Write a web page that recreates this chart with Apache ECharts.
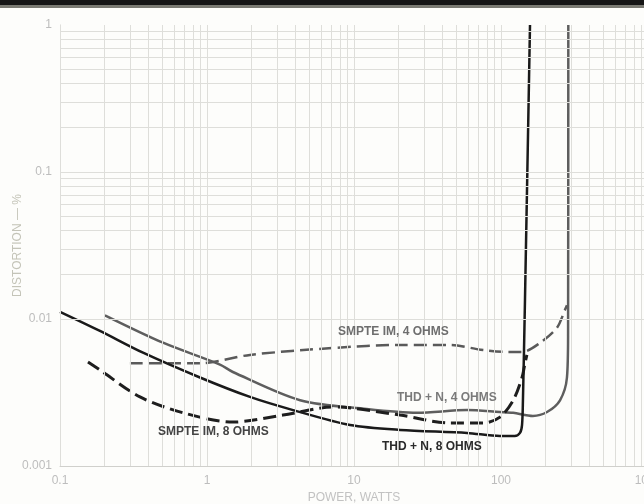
<!DOCTYPE html>
<html>
<head>
<meta charset="utf-8">
<style>html,body{margin:0;padding:0;background:#fdfdfb}#c{width:644px;height:504px}</style>
<script src="https://cdn.jsdelivr.net/npm/echarts@6/dist/echarts.min.js"></script>
</head>
<body>
<div id="c"></div>
<script>
// ---- data (power in watts, distortion in %) ----
const thd8 = [[0.1,0.0112],[0.187,0.0083],[0.367,0.0059],[0.896,0.0040],[1.96,0.00295],[3.85,0.0024],[9.4,0.0019],[20.6,0.00176],[58.7,0.00168],[98.4,0.0016],[124,0.0016],[134.6,0.00168],[139,0.0019],[141,0.0028],[145.6,0.0135],[157.5,1]];
const thd4 = [[0.202,0.0106],[0.502,0.0069],[1.225,0.0049],[1.5,0.00436],[4.3,0.0028],[12.2,0.00244],[26.9,0.0023],[58.7,0.0024],[98.4,0.00233],[121,0.0023],[165,0.00219],[205.6,0.00233],[252,0.0028],[281,0.0040],[286,0.0080],[287,1]];
const im4 = [[0.299,0.0050],[0.896,0.0050],[1.96,0.0057],[7.2,0.00635],[20.6,0.00666],[45,0.00666],[75.5,0.00615],[115,0.00596],[139,0.00596],[184,0.00687],[240,0.0087],[272,0.0115],[281,0.0124]];
const im8 = [[0.155,0.0051],[0.187,0.0045],[0.35,0.00295],[0.687,0.0023],[1.5,0.00199],[3.29,0.00222],[7.2,0.00252],[20.6,0.00222],[45,0.00196],[75.5,0.00196],[98.4,0.00215],[121,0.0028],[139,0.0040],[145.6,0.0050],[150,0.0057]];
const xTickLabels = {"0.1":"0.1","1":"1","10":"10","100":"100","1000":"1000"};
const yTickLabels = {"0.001":"0.001","0.01":"0.01","0.1":"0.1","1":"1"};
const seriesNames = ["THD + N, 8 OHMS","THD + N, 4 OHMS","SMPTE IM, 4 OHMS","SMPTE IM, 8 OHMS"];

// log-paper grid lines
const gx = [], gy = [];
for (let e = -1; e <= 2; e++) for (let m = 1; m <= 9; m++) gx.push({xAxis: +(m * Math.pow(10, e)).toPrecision(3)});
for (let e = -3; e <= -1; e++) for (let m = 1; m <= 9; m++) gy.push({yAxis: +(m * Math.pow(10, e)).toPrecision(3)});

const chart = echarts.init(document.getElementById('c'), null, {renderer: 'canvas'});
const font = 'Liberation Sans';
chart.setOption({
  backgroundColor: '#fdfdfb',
  animation: false,
  grid: {left: 60, top: 25, right: -4, bottom: 38, containLabel: false, outerBoundsMode: 'none'},
  xAxis: {
    type: 'log', logBase: 10, min: 0.1, max: 1000,
    name: 'POWER, WATTS', nameLocation: 'middle', nameGap: 26, nameMoveOverlap: false,
    nameTextStyle: {color: '#c2c2c2', fontFamily: font, fontSize: 12},
    axisLine: {show: true, lineStyle: {color: '#d0d0cc', width: 1}},
    axisTick: {show: false},
    splitLine: {show: false},
    axisLabel: {color: '#bdbdbd', fontFamily: font, fontSize: 12, margin: 9,
      formatter: v => xTickLabels[String(+v.toPrecision(3))] || ''}
  },
  yAxis: {
    type: 'log', logBase: 10, min: 0.001, max: 1,
    name: 'DISTORTION — %', nameLocation: 'middle', nameGap: 36, nameRotate: 90, nameMoveOverlap: false,
    nameTextStyle: {color: '#c4c4b8', fontFamily: font, fontSize: 12},
    axisLine: {show: true, lineStyle: {color: '#d0d0cc', width: 1}},
    axisTick: {show: false},
    splitLine: {show: false},
    axisLabel: {color: '#bdbdbd', fontFamily: font, fontSize: 12, margin: 8,
      formatter: v => yTickLabels[String(+v.toPrecision(3))] || ''}
  },
  graphic: [
    {type: 'rect', shape: {x: 0, y: 0, width: 644, height: 5}, style: {fill: '#151515'}},
    {type: 'rect', shape: {x: 0, y: 5, width: 644, height: 3}, style: {fill: '#7a7a72'}},
    {type: 'text', z: 10, left: 338, top: 326, style: {text: seriesNames[2], fill: '#6e6e6e', font: '600 12px "Liberation Sans"'}},
    {type: 'text', z: 10, left: 397, top: 392, style: {text: seriesNames[1], fill: '#7a7a7a', font: '600 12px "Liberation Sans"'}},
    {type: 'text', z: 10, left: 158, top: 426, style: {text: seriesNames[3], fill: '#444', font: '600 12px "Liberation Sans"'}},
    {type: 'text', z: 10, left: 382, top: 441, style: {text: seriesNames[0], fill: '#2a2a2a', font: '600 12px "Liberation Sans"'}}
  ],
  series: [
    {type: 'line', data: [], z: 1, silent: true,
      markLine: {silent: true, symbol: 'none', label: {show: false},
        lineStyle: {color: '#dededa', width: 1, type: 'solid'},
        data: gx.concat(gy)}},
    {name: seriesNames[1], type: 'line', data: thd4, smooth: 0.3, symbol: 'none', z: 3,
      lineStyle: {color: '#5e5e5e', width: 2.5}},
    {name: seriesNames[2], type: 'line', data: im4, smooth: 0.3, symbol: 'none', z: 3,
      lineStyle: {color: '#5a5a5a', width: 2.5, type: [13, 6]}},
    {name: seriesNames[3], type: 'line', data: im8, smooth: 0.3, symbol: 'none', z: 4,
      lineStyle: {color: '#1e1e1e', width: 3, type: [13, 6]}},
    {name: seriesNames[0], type: 'line', data: thd8, smooth: 0.3, symbol: 'none', z: 4,
      lineStyle: {color: '#1a1a1a', width: 2.5}}
  ]
});
</script>
</body>
</html>
